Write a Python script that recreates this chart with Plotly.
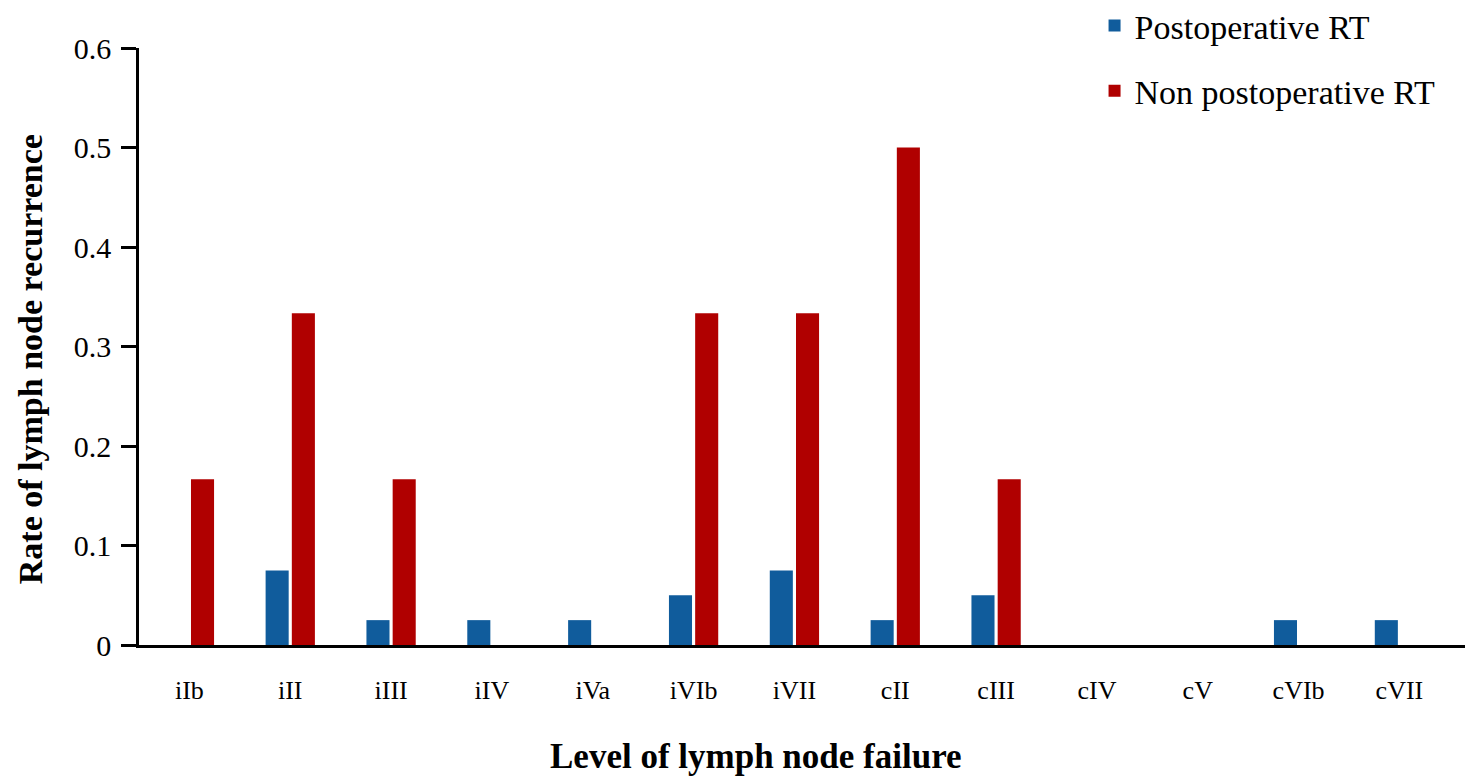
import plotly.graph_objects as go

categories = ["iIb", "iII", "iIII", "iIV", "iVa", "iVIb", "iVII", "cII", "cIII", "cIV", "cV", "cVIb", "cVII"]
postop_rt = [0, 0.075, 0.025, 0.025, 0.025, 0.05, 0.075, 0.025, 0.05, 0, 0, 0.025, 0.025]
non_postop_rt = [0.1667, 0.3333, 0.1667, 0, 0, 0.3333, 0.3333, 0.5, 0.1667, 0, 0, 0, 0]
y_ticks = [0, 0.1, 0.2, 0.3, 0.4, 0.5, 0.6]
y_tick_labels = ["0", "0.1", "0.2", "0.3", "0.4", "0.5", "0.6"]

FONT = "Liberation Serif, Times New Roman, serif"

fig = go.Figure()
fig.add_trace(go.Bar(
    x=categories, y=postop_rt, name="Postoperative RT",
    marker=dict(color="#105c9c", line=dict(width=0)),
    legendgroup="a",
))
fig.add_trace(go.Bar(
    x=categories, y=non_postop_rt, name="Non postoperative RT",
    marker=dict(color="#b00000", line=dict(width=0)),
    legendgroup="b",
))

fig.add_annotation(
    text="<b>Rate of lymph node recurrence</b>", textangle=-90,
    xref="paper", yref="paper", x=-0.0819, y=0.479,
    xanchor="center", yanchor="middle", showarrow=False,
    font=dict(family=FONT, size=34, color="black"),
)
fig.add_annotation(
    text="<b>Level of lymph node failure</b>",
    xref="paper", yref="paper", x=0.4643, y=-0.1876,
    xanchor="center", yanchor="middle", showarrow=False,
    font=dict(family=FONT, size=35, color="black"),
)

# page body has an 8px margin, so the figure is sized/offset to compensate
fig.update_layout(
    width=1465, height=771,
    paper_bgcolor="white", plot_bgcolor="white",
    margin=dict(l=131, r=5, t=40, b=134, autoexpand=False),
    barmode="group", bargap=0.48, bargroupgap=0.12,
    font=dict(family=FONT, color="black"),
    showlegend=True,
    legend=dict(
        xref="paper", yref="paper",
        x=0.719, y=1.0856, xanchor="left", yanchor="top",
        font=dict(family=FONT, size=34, color="black"),
        traceorder="grouped", tracegroupgap=18,
        bgcolor="rgba(0,0,0,0)",
    ),
    xaxis=dict(
        range=[-0.5, 12.68], automargin=False,
        showline=True, linecolor="black", linewidth=2.5,
        ticks="", showgrid=False, zeroline=False,
        ticklabelstandoff=20,
        tickfont=dict(family=FONT, size=26, color="black"),
    ),
    yaxis=dict(
        range=[0, 0.6], tickvals=y_ticks, ticktext=y_tick_labels, automargin=False,
        showline=True, linecolor="black", linewidth=2.5,
        ticks="outside", ticklen=15, tickwidth=2.5, tickcolor="black",
        showgrid=False, zeroline=False,
        ticklabelstandoff=4,
        tickfont=dict(family=FONT, size=30, color="black"),
    ),
)

fig.write_html("out.html")
